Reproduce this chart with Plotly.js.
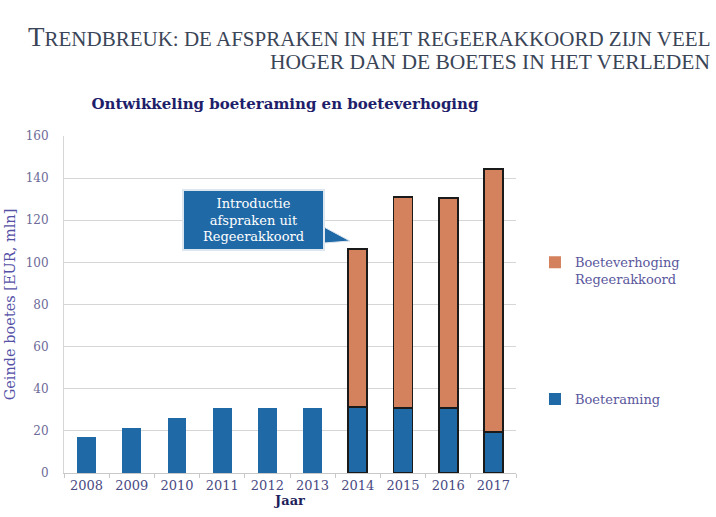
<!DOCTYPE html>
<html><head><meta charset="utf-8">
<script src="https://cdn.plot.ly/plotly-3.0.1.min.js"></script>
<style>body{margin:0;background:#fff}#chart{width:716px;height:517px}</style>
</head><body><div id="chart"></div>
<script>
const years = ['2008','2009','2010','2011','2012','2013','2014','2015','2016','2017'];
const boeteraming = [17, 21.5, 26, 31, 31, 31, 31.3, 31, 31, 19.5];
const boeteverhoging = [0, 0, 0, 0, 0, 0, 75, 100, 99.5, 125];
const seriesNames = ['Boeteraming', 'Boeteverhoging<br>Regeerakkoord'];
const yTicks = [0, 20, 40, 60, 80, 100, 120, 140, 160];

const outlineW = boeteverhoging.map(v => v > 0 ? 1.8 : 0);
const font = 'DejaVu Serif, Liberation Serif, serif';

const traces = [
  {type:'bar', x: years, y: boeteraming, name: seriesNames[0], legendgroup:'a', legendrank:2,
   marker:{color:'#1f69a6', line:{color:'#1a1a1a', width: outlineW}}, width:0.42},
  {type:'bar', x: years, y: boeteverhoging, name: seriesNames[1], legendgroup:'b', legendrank:1,
   marker:{color:'#d4825e', line:{color:'#1a1a1a', width: outlineW}}, width:0.42}
];

function px2x(p){return (p-64)/452;}
function px2y(p){return 1-(p-136)/337;}

const layout = {
  width:716, height:517,
  margin:{l:64, r:200, t:136, b:44},
  paper_bgcolor:'#fff', plot_bgcolor:'#fff',
  barmode:'stack',
  showlegend:true,
  legend:{x:1.042, xanchor:'left', y:0.67, yanchor:'top', traceorder:'grouped', tracegroupgap:100, valign:'top',
    font:{family:font, size:13, color:'#5a579c'}, itemwidth:30, bgcolor:'rgba(0,0,0,0)'},
  font:{family:font},
  xaxis:{type:'category', showline:true, linecolor:'#c8c8c8', ticks:'outside', tickson:'boundaries',
    ticklen:4, tickcolor:'#c8c8c8', tickfont:{family:font, size:13, color:'#4a4a82'},
    title:{text:'<b>Jaar</b>', font:{family:font, size:13, color:'#1e1e5a'}, standoff:4}},
  yaxis:{range:[0,160], tickvals:yTicks, showgrid:true, gridcolor:'#d6d6d6', gridwidth:1,
    showline:true, linecolor:'#d6d6d6', zeroline:false, ticklabelstandoff:12,
    tickfont:{family:font, size:12, color:'#6c6a98'},
    title:{text:'Geinde boetes [EUR, mln]', font:{family:font, size:14.5, color:'#5450a6'}, standoff:6}},
  title:{text:'<b>Ontwikkeling boeteraming en boeteverhoging</b>', font:{family:font, size:15, color:'#1e1e6a'},
    x:0.398, xanchor:'center', y:0.8, yanchor:'middle', yref:'container'},
  annotations:[
    {xref:'paper', yref:'paper', x:px2x(712), y:px2y(37), xanchor:'right', yanchor:'middle', showarrow:false,
     text: 'T<span style="font-size:21px">RENDBREUK: DE AFSPRAKEN IN HET REGEERAKKOORD ZIJN VEEL</span>',
     font:{family:'Liberation Serif, serif', size:27, color:'#3a4557'}},
    {xref:'paper', yref:'paper', x:px2x(712), y:px2y(62), xanchor:'right', yanchor:'middle', showarrow:false,
     text: 'HOGER DAN DE BOETES IN HET VERLEDEN',
     font:{family:'Liberation Serif, serif', size:21.5, color:'#3a4557'}},
    {xref:'paper', yref:'paper', x:px2x(253.5), y:px2y(220), xanchor:'center', yanchor:'middle', showarrow:false,
     text:'Introductie<br>afspraken uit<br>Regeerakkoord', width:137, height:56,
     bgcolor:'#1f69a6', bordercolor:'#dce6f0', borderwidth:2, borderpad:1,
     font:{family:font, size:13, color:'#ffffff'}}
  ],
  shapes:[
    {type:'path', xref:'paper', yref:'paper', fillcolor:'#1f69a6', line:{color:'#dce6f0', width:1},
     path:'M'+px2x(324)+','+px2y(227)+' L'+px2x(350)+','+px2y(241)+' L'+px2x(324)+','+px2y(243)+' Z'}
  ]
};
Plotly.newPlot('chart', traces, layout, {displayModeBar:false, staticPlot:true});
</script></body></html>
